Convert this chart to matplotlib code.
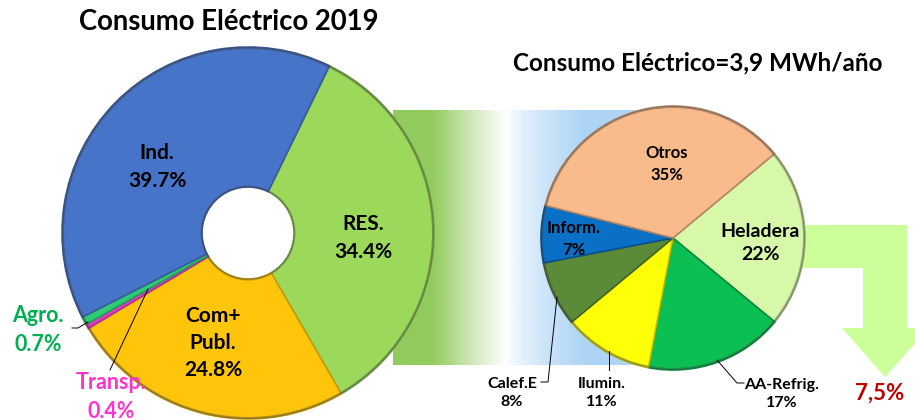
import matplotlib.pyplot as plt
import numpy as np
from matplotlib.patches import Polygon, Circle

plt.rcParams['font.family'] = ['Lato', 'DejaVu Sans']

W, H = 915, 420

# consumo electrico por sector (anillo izquierdo)
sect_lbl = ['RES.', 'Com+\nPubl.', 'Transp.', 'Agro.', 'Ind.']
sect_val = [34.4, 24.8, 0.4, 0.7, 39.7]
sect_col = ['#9CD95B', '#FFC50A', '#E23CC0', '#2ECB74', '#4674C8']

# consumo residencial por uso (torta derecha)
res_lbl = ['Heladera', 'AA-Refrig.', 'Ilumin.', 'Calef.E', 'Inform.', 'Otros']
res_val = [22, 17, 11, 8, 7, 35]
res_col = ['#D6F8A8', '#0BBF52', '#FFFF08', '#5B8A38', '#0A70C6', '#F9BA8C']

ahorro = '7,5%'


def Y(y):
    return H - y


def darker(c, f=0.7):
    r, g, b = plt.matplotlib.colors.to_rgb(c)
    return (r * f, g * f, b * f)


fig = plt.figure(figsize=(W / 100, H / 100), dpi=100)
ax = fig.add_axes([0, 0, 1, 1])

# banda degradada entre las dos tortas
x0, x1, xm = 393, 645, 507
xs = np.linspace(x0, x1, 400)
img = np.zeros((1, len(xs), 4))
for i, x in enumerate(xs):
    if x < xm:
        t = (xm - x) / (xm - 433)
        img[0, i] = [0.55, 0.79, 0.33, min(0.95, t ** 1.1 * 0.95)]
    else:
        t = (x - xm) / (585 - xm)
        img[0, i] = [0.62, 0.80, 0.96, min(0.85, t ** 0.7 * 0.85)]
ax.imshow(img, extent=(x0, x1, Y(365), Y(110)), aspect='auto', zorder=0)

# flecha verde
arrow = [(740, 225), (907, 225), (907, 328), (929, 328), (885, 377),
         (842, 328), (863, 328), (863, 268), (740, 268)]
ax.add_patch(Polygon([(x, Y(y)) for x, y in arrow], closed=True,
                     facecolor='#CCFF99', edgecolor='none', zorder=0.5))

# anillo izquierdo
wl, _ = ax.pie(sect_val, colors=sect_col, startangle=64, counterclock=False,
               center=(248, Y(233)), radius=186, frame=True,
               wedgeprops=dict(width=140, linewidth=1.2))
for w, c in zip(wl, sect_col):
    w.set_edgecolor(darker(c, 0.78))
    w.set_zorder(2)
ax.add_patch(Circle((248, Y(233)), 185, fill=False, edgecolor='#404040',
                    lw=1.5, alpha=0.45, zorder=3))
ax.add_patch(Circle((248, Y(233)), 46.5, fill=False, edgecolor='#404040',
                    lw=1.5, alpha=0.35, zorder=3))

# torta derecha
wr, _ = ax.pie(res_val, colors=res_col, startangle=39.7, counterclock=False,
               center=(673, Y(238)), radius=132, frame=True,
               wedgeprops=dict(linewidth=1.2))
for w, c in zip(wr, res_col):
    w.set_edgecolor(darker(c, 0.72))
    w.set_zorder(2)
ax.add_patch(Circle((673, Y(238)), 131, fill=False, edgecolor='#404040',
                    lw=1.5, alpha=0.4, zorder=3))

ax.set_xlim(0, W)
ax.set_ylim(0, H)
ax.set_aspect('equal')
ax.axis('off')

tk = dict(fontweight='bold', ha='center', va='center', zorder=5)

# titulos
ax.text(229, Y(22), 'Consumo Eléctrico 2019', fontsize=19.8, **tk)
ax.text(698, Y(63), 'Consumo Eléctrico=3,9 MWh/año', fontsize=17.5, **tk)

# etiquetas anillo
ax.text(157, Y(167), f'{sect_lbl[4]}\n{sect_val[4]}%', fontsize=15,
        linespacing=1.45, **tk)
ax.text(363, Y(238), f'{sect_lbl[0]}\n{sect_val[0]}%', fontsize=15,
        linespacing=1.45, **tk)
ax.text(213, Y(343), f'{sect_lbl[1]}\n{sect_val[1]}%', fontsize=15,
        linespacing=1.45, **tk)
ax.text(38, Y(330), f'{sect_lbl[3]}\n{sect_val[3]}%', fontsize=15.5,
        color='#00B050', linespacing=1.45, **tk)
ax.text(111, Y(397), f'{sect_lbl[2]}\n{sect_val[2]}%', fontsize=15.5,
        color='#FF33CC', linespacing=1.45, **tk)
ax.plot([72, 78, 88], [Y(328), Y(328), Y(322)], color='black', lw=0.7, zorder=6)
ax.plot([110, 148], [Y(370), Y(289)], color='black', lw=0.7, zorder=6)

# etiquetas torta
ax.text(667, Y(164), f'{res_lbl[5]}\n{res_val[5]}%', fontsize=12,
        linespacing=1.5, **tk)
ax.text(760, Y(243), f'{res_lbl[0]}\n{res_val[0]}%', fontsize=14,
        linespacing=1.45, **tk)
ax.text(574, Y(239), f'{res_lbl[4]}\n{res_val[4]}%', fontsize=12,
        linespacing=1.45, **tk)
ax.text(512, Y(393), f'{res_lbl[3]}\n{res_val[3]}%', fontsize=11.5,
        linespacing=1.45, **tk)
ax.text(602, Y(393), f'{res_lbl[2]}\n{res_val[2]}%', fontsize=11.5,
        linespacing=1.45, **tk)
ax.text(782, Y(394), f'{res_lbl[1]}\n{res_val[1]}%', fontsize=11.5,
        linespacing=1.45, **tk)
ax.plot([557, 548, 541], [Y(297), Y(382), Y(382)], color='black', lw=0.7, zorder=6)
ax.plot([609, 609], [Y(351), Y(370)], color='black', lw=0.7, zorder=6)
ax.plot([717, 737, 744], [Y(360), Y(383), Y(383)], color='black', lw=0.7, zorder=6)

ax.text(880, Y(393), ahorro, fontsize=16, color='#C00000', **tk)

fig.savefig('out.png', dpi=100)
